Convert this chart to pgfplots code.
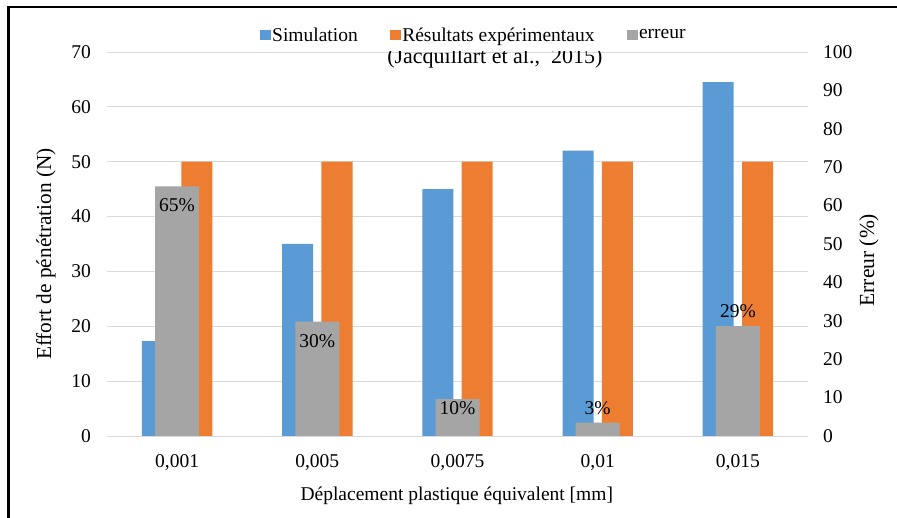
\documentclass[border=0pt]{standalone}
\usepackage{pgfplots}
\pgfplotsset{compat=1.18}
\usepackage{fontspec}
\setmainfont{Liberation Serif}
\definecolor{cblue}{HTML}{5B9BD5}
\definecolor{corange}{HTML}{ED7D31}
\definecolor{cgray}{HTML}{A5A5A5}
\definecolor{cgrid}{HTML}{D9D9D9}
\pgfplotsset{sq legend/.style={legend image code/.code={\fill[##1,draw=none] (0pt,-4pt) rectangle (10.5pt,6pt);}}}
\begin{document}
\fontsize{19.5}{23}\selectfont
\begin{tikzpicture}[font=\fontsize{19.5}{23}\selectfont]
\path[use as bounding box] (-107pt,-82pt) rectangle (790pt,436pt);
\draw[line width=2.5pt] (-98.5pt,-82pt) -- (-98.5pt,429pt) -- (790pt,429pt);
\begin{axis}[
  scale only axis, width=701pt, height=384pt,
  xmin=-0.5, xmax=4.5, ymin=0, ymax=70,
  xtick={0,1,2,3,4},
  xticklabels={{0,001},{0,005},{0,0075},{0,01},{0,015}},
  ytick={0,10,...,70},
  ymajorgrids, grid style={cgrid, line width=0.8pt},
  axis line style={draw=none},
  major tick length=0pt,
  /pgf/number format/assume math mode=true,
  tick label style={font=\fontsize{19.5}{23}\selectfont},
  xticklabel style={anchor=base, yshift=-32pt},
  yticklabel style={anchor=east, inner sep=0pt, xshift=-16pt},
  xlabel={Déplacement plastique équivalent [mm]},
  xlabel style={at={(axis description cs:0.499,-0.157)}, anchor=center},
  ylabel={Effort de pénétration (N)},
  ylabel style={at={(axis description cs:-0.087,0.474)}, anchor=center, font=\fontsize{21.3}{25}\selectfont},
  legend style={at={(axis description cs:0.2183,1.042)}, anchor=west, draw=none, fill=none, inner sep=0pt,
    /tikz/every even column/.append style={column sep=31pt}, nodes={inner sep=1.5pt}},
  legend columns=3,
]
\addplot[ybar, bar width=31pt, bar shift=-19.7pt, fill=cblue, draw=none, sq legend]
  coordinates {(0,17.3) (1,35) (2,45) (3,52) (4,64.5)};
\addlegendentry{Simulation}
\addplot[ybar, bar width=31pt, bar shift=19.7pt, fill=corange, draw=none, sq legend]
  coordinates {(0,50) (1,50) (2,50) (3,50) (4,50)};
\addlegendentry{Résultats expérimentaux}
\addlegendimage{sq legend, fill=cgray, draw=none}
\addlegendentry{erreur}
\node[font=\fontsize{22}{26}\selectfont] at (axis description cs:0.5532,0.983) {(Jacquillart et al.,\ \ 2015)};
\draw[cgrid, line width=0.8pt] (rel axis cs:0,0) -- ++(0pt,-69pt);
\draw[cgrid, line width=0.8pt] (rel axis cs:1,0) -- ++(0pt,-69pt);
\end{axis}
\begin{axis}[
  scale only axis, width=701pt, height=384pt,
  xmin=-0.5, xmax=4.5, ymin=0, ymax=100,
  axis x line=none, xtick=\empty,
  axis y line*=right, y axis line style={draw=none},
  ytick={0,10,...,100},
  major tick length=0pt,
  /pgf/number format/assume math mode=true,
  tick label style={font=\fontsize{19.5}{23}\selectfont},
  yticklabel style={anchor=west, inner sep=0pt, xshift=15pt},
  ylabel={Erreur (\%)},
  ylabel style={at={(axis description cs:1.087,0.458)}, anchor=center, rotate=0, font=\fontsize{21.5}{25}\selectfont},
]
\addplot[ybar, bar width=44pt, bar shift=0pt, fill=cgray, draw=none]
  coordinates {(0,65) (1,29.8) (2,9.6) (3,3.5) (4,28.6)};
\node[yshift=-19pt] at (axis cs:0,65) {65\%};
\node[yshift=-19.3pt] at (axis cs:1,29.8) {30\%};
\node[yshift=-8.7pt] at (axis cs:2,9.6) {10\%};
\node[yshift=14.7pt] at (axis cs:3,3.5) {3\%};
\node[yshift=15.3pt] at (axis cs:4,28.6) {29\%};
\end{axis}
\end{tikzpicture}
\end{document}
